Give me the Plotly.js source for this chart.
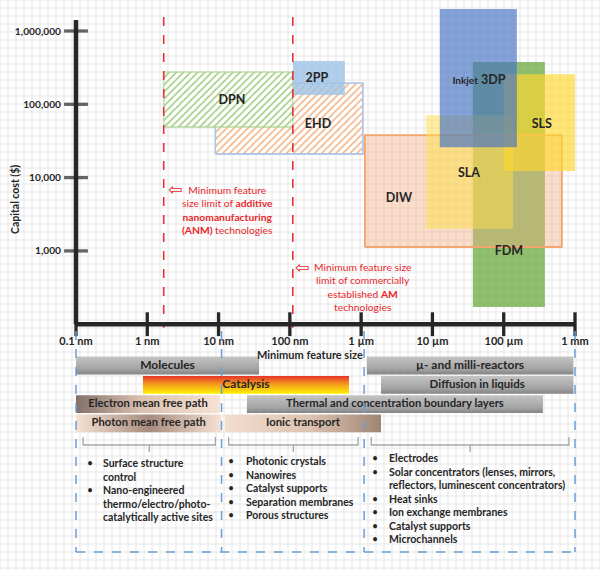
<!DOCTYPE html>
<html>
<head>
<meta charset="utf-8">
<script src="https://cdn.plot.ly/plotly-3.0.1.min.js"></script>
<style>body{margin:0;background:#fff;} #chart{width:600px;height:570px;}</style>
</head>
<body>
<div id="chart"></div>
<script>
// AM technologies: feature size window (nm) and capital cost window ($)
let techNames = ["FDM", "DIW", "SLA", "SLS", "Inkjet 3DP", "EHD", "DPN", "2PP"];
let sizeMin = [37000, 1130, 8100, 100000, 12700, 9, 1.7, 110];
let sizeMax = [378000, 655000, 135000, 1000000, 153000, 1060, 110, 590];
let costMin = [172, 1130, 2000, 12300, 26000, 21000, 49000, 134000];
let costMax = [378000, 38000, 71000, 258000, 2000000, 195000, 275000, 390000];
// where each name is written
let labelSize = [118000, 3390, 32500, 343000, 44900, 248, 15.4, 240];
let labelCost = [970, 5100, 11200, 52000, 208000, 52000, 111000, 221000];

// minimum feature size limits (nm): ANM and commercial AM
let limitSizes = [1.7, 110];

// length scales of the phenomena (nm)
let scaleNames = ["Molecules", "µ- and milli-reactors", "Catalysis", "Diffusion in liquids",
  "Electron mean free path", "Thermal and concentration boundary layers",
  "Photon mean free path", "Ionic transport"];
let scaleMin = [0.1, 1200, 0.87, 1900, 0.1, 25, 0.1, 12.3];
let scaleMax = [37, 950000, 675, 950000, 10.5, 355000, 11, 1900];
let scaleRow = [0, 0, 1, 1, 2, 2, 3, 3];

// application groups and their size boundaries (nm)
let groupEdges = [0.1, 11, 1100, 1000000];
let nanoApps = [["Surface structure", "control"], ["Nano-engineered", "thermo/electro/photo-", "catalytically active sites"]];
let microApps = [["Photonic crystals"], ["Nanowires"], ["Catalyst supports"], ["Separation membranes"], ["Porous structures"]];
let macroApps = [["Electrodes"], ["Solar concentrators (lenses, mirrors,", "reflectors, luminescent concentrators)"],
  ["Heat sinks"], ["Ion exchange membranes"], ["Catalyst supports"], ["Microchannels"]];

// axis ticks
let xTickVals = [0.1, 1, 10, 100, 1000, 10000, 100000, 1000000];
let xTickText = ["0.1 nm", "1 nm", "10 nm", "100 nm", "1 µm", "10 µm", "100 µm", "1 mm"];
let yTickVals = [1000, 10000, 100000, 1000000];
let yTickText = ["1,000", "10,000", "100,000", "1,000,000"];

let lg = Math.log10;
let FONT = "Lato, 'Open Sans', sans-serif";
let INK = "#262626";
let W = 600, H = 570;
let px = x => x / W;
let py = y => 1 - y / H;

// styles for the technology boxes
let techFill = ["rgba(112,173,71,0.78)", "rgba(244,177,131,0.42)", "rgba(255,222,70,0.5)",
  "rgba(255,215,45,0.66)", "rgba(68,114,196,0.66)", "#ffffff", "#ffffff", "rgba(157,195,230,0.8)"];
let techLine = ["rgba(0,0,0,0)", "#f4a46e", "rgba(0,0,0,0)", "rgba(0,0,0,0)", "rgba(0,0,0,0)",
  "#b4c7e7", "rgba(169,209,142,0.6)", "rgba(0,0,0,0)"];
let techHatch = [null, null, null, null, null, "#f4b183", "#9dcc7c", null];

let traces = [];

techNames.forEach((name, i) => {
  let a = lg(sizeMin[i]), b = lg(sizeMax[i]), c = lg(costMin[i]), d = lg(costMax[i]);
  let t = {
    x: [a, b, b, a, a], y: [c, c, d, d, c],
    mode: "lines", fill: "toself", fillcolor: techFill[i],
    line: {color: techLine[i], width: techLine[i].startsWith("rgba(0") ? 0 : 1.8},
    hoverinfo: "skip", showlegend: false
  };
  if (techHatch[i]) {
    t.fillpattern = {shape: "/", fgcolor: techHatch[i], bgcolor: "#ffffff", size: 5, solidity: 0.3};
  }
  traces.push(t);
});

// technology names
traces.push({
  x: labelSize.map(lg), y: labelCost.map(lg), mode: "text",
  text: techNames.map(n => n === "Inkjet 3DP"
    ? "<b><span style='font-size:10px'>Inkjet</span> 3DP</b>" : "<b>" + n + "</b>"),
  textfont: {family: FONT, size: 12.5, color: INK},
  hoverinfo: "skip", showlegend: false, cliponaxis: false
});

// red dashed limit lines
limitSizes.forEach(s => {
  traces.push({
    x: [lg(s), lg(s)], y: [6.19, 1.95], mode: "lines",
    line: {color: "#e8323c", width: 1.6, dash: "dash"},
    hoverinfo: "skip", showlegend: false
  });
});

// hand-drawn looking axes with crossing ticks
traces.push({
  x: xTickVals.map(lg), y: xTickVals.map(() => lg(100)), mode: "lines+markers",
  line: {color: INK, width: 4.5},
  marker: {symbol: "line-ns", size: 17, line: {color: INK, width: 3.3}},
  hoverinfo: "skip", showlegend: false, cliponaxis: false
});
let yAxisVals = [2].concat(yTickVals.map(lg)).concat([6.15]);
traces.push({
  x: yAxisVals.map(() => lg(0.1)), y: yAxisVals, mode: "lines+markers",
  line: {color: INK, width: 4.5},
  marker: {symbol: "line-ew", size: yAxisVals.map((v, k) => (k === 0 || k === yAxisVals.length - 1) ? 0 : 17),
    line: {color: INK, width: 3.3}},
  hoverinfo: "skip", showlegend: false, cliponaxis: false
});

// length-scale bars (lower panel)
let grayFill = {type: "vertical", colorscale: [[0, "#c4c4c4"], [0.7, "#a3a3a3"], [1, "#858585"]]};
let scaleGrad = [
  grayFill, grayFill,
  {type: "vertical", colorscale: [[0, "#e6332a"], [0.5, "#f5a11c"], [1, "#fff100"]]},
  grayFill,
  {type: "horizontal", colorscale: [[0, "#83706a"], [0.45, "#d9c0ae"], [1, "#f6e2d3"]]},
  grayFill,
  {type: "horizontal", colorscale: [[0, "#f6e2d3"], [0.5, "#a68c7e"], [1, "#f6e2d3"]]},
  {type: "horizontal", colorscale: [[0, "#f3ddce"], [0.55, "#dcc2b0"], [1, "#a08574"]]}
];
let labelFont = [12, 12, 12, 11.5, 11.2, 11.3, 11.2, 11.3];
let half = 0.46;
scaleNames.forEach((name, i) => {
  let a = lg(scaleMin[i]), b = lg(scaleMax[i]);
  let top = scaleRow[i] - half, bot = scaleRow[i] + half;
  let g = Object.assign({}, scaleGrad[i]);
  if (g.type === "vertical") { g.start = top; g.stop = bot; }
  else { g.start = a; g.stop = b; }
  traces.push({
    x: [a, b, b, a, a], y: [top, top, bot, bot, top],
    xaxis: "x", yaxis: "y2", mode: "lines", fill: "toself",
    fillgradient: g, line: {width: 0, color: "rgba(0,0,0,0)"},
    hoverinfo: "skip", showlegend: false
  });
});
traces.push({
  x: scaleNames.map((n, i) => (lg(scaleMin[i]) + lg(scaleMax[i])) / 2),
  y: scaleRow, xaxis: "x", yaxis: "y2", mode: "text",
  text: scaleNames.map(n => "<b>" + n + "</b>"),
  textfont: {family: FONT, size: labelFont, color: INK},
  hoverinfo: "skip", showlegend: false, cliponaxis: false
});

// background graph paper + dashed group boxes + braces
let shapes = [];
let grid = "";
for (let gx = 0; gx <= W; gx += 8) grid += "M" + px(gx) + ",0L" + px(gx) + ",1";
for (let gy = 0; gy <= H; gy += 8) grid += "M0," + py(gy) + "L1," + py(gy);
shapes.push({type: "path", xref: "paper", yref: "paper", path: grid, layer: "below",
  line: {color: "#e5e5e5", width: 1}});

groupEdges.forEach(e => {
  shapes.push({type: "line", xref: "x", yref: "paper", x0: lg(e), x1: lg(e), y0: py(331), y1: py(552),
    line: {color: "#6a9fd8", width: 1.5, dash: "dash"}});
});
shapes.push({type: "line", xref: "x", yref: "paper", x0: lg(groupEdges[0]), x1: lg(groupEdges[3]),
  y0: py(552), y1: py(552), line: {color: "#6a9fd8", width: 1.5, dash: "dash"}});

let inset = [0.1, 0.085];
for (let k = 0; k < 3; k++) {
  let x0 = lg(groupEdges[k]) + inset[0], x1 = lg(groupEdges[k + 1]) - inset[1];
  let xc = (x0 + x1) / 2;
  shapes.push({type: "path", xref: "x", yref: "paper",
    path: "M" + x0 + "," + py(437) + "L" + x0 + "," + py(445) + "L" + x1 + "," + py(445) + "L" + x1 + "," + py(437)
      + "M" + xc + "," + py(445) + "L" + xc + "," + py(452),
    line: {color: "#a6a6a6", width: 1.3}});
}

// annotations
let annotations = [];
let txt = (x, y, text, opts) => annotations.push(Object.assign({
  xref: "paper", yref: "paper", x: px(x), y: py(y), text: text, showarrow: false,
  xanchor: "center", yanchor: "middle",
  font: {family: FONT, size: 11, color: INK}
}, opts || {}));

txt(15, 200, "<b>Capital cost ($)</b>", {textangle: -90, font: {family: FONT, size: 10.5, color: INK}});
txt(310, 354, "<b>Minimum feature size</b>");

let RED = "#e8262a";
txt(175, 189, "⇦", {font: {family: "DejaVu Sans", size: 17, color: RED}});
txt(227, 210, "Minimum feature<br>size limit of <b>additive</b><br><b>nanomanufacturing</b><br><b>(ANM)</b> technologies",
  {align: "center", font: {family: FONT, size: 10.3, color: RED}});
txt(302, 267, "⇦", {font: {family: "DejaVu Sans", size: 17, color: RED}});
txt(363, 287, "Minimum feature size<br>limit of commercially<br>established <b>AM</b><br>technologies",
  {align: "center", font: {family: FONT, size: 10.3, color: RED}});

let columns = [
  {items: nanoApps, bx: 90, tx: 101, y0: 463},
  {items: microApps, bx: 231, tx: 244, y0: 461},
  {items: macroApps, bx: 375, tx: 387, y0: 458}
];
columns.forEach(col => {
  let line = 0;
  col.items.forEach(item => {
    txt(col.bx, col.y0 + line * 13.5, "•", {font: {family: FONT, size: 10.5, color: INK}});
    item.forEach(s => {
      txt(col.tx, col.y0 + line * 13.5, "<b>" + s + "</b>", {xanchor: "left", font: {family: FONT, size: 10.5, color: INK}});
      line++;
    });
  });
});

let layout = {
  width: W, height: H,
  margin: {l: 0, r: 0, t: 0, b: 0},
  paper_bgcolor: "#ffffff", plot_bgcolor: "rgba(0,0,0,0)",
  font: {family: FONT, color: INK},
  xaxis: {domain: [px(64), px(588)], range: [-1.1683, 6.1823], anchor: "y",
    tickvals: xTickVals.map(lg), ticktext: xTickText, ticks: "", ticklabelstandoff: 2,
    showgrid: false, zeroline: false, showline: false,
    tickfont: {family: FONT, size: 11, color: INK, weight: "bold"}},
  yaxis: {domain: [py(331), py(8)], range: [1.9072, 6.3138], anchor: "x",
    tickvals: yTickVals.map(lg), ticktext: yTickText, ticks: "", ticklabelstandoff: 2,
    showgrid: false, zeroline: false, showline: false,
    tickfont: {family: FONT, size: 10.2, color: INK, weight: "bold"}},
  yaxis2: {domain: [py(560), py(336)], range: [10.078, -1.5285], anchor: "x", visible: false},
  shapes: shapes,
  annotations: annotations,
  showlegend: false
};

Plotly.newPlot("chart", traces, layout, {displayModeBar: false, staticPlot: true});
</script>
</body>
</html>
